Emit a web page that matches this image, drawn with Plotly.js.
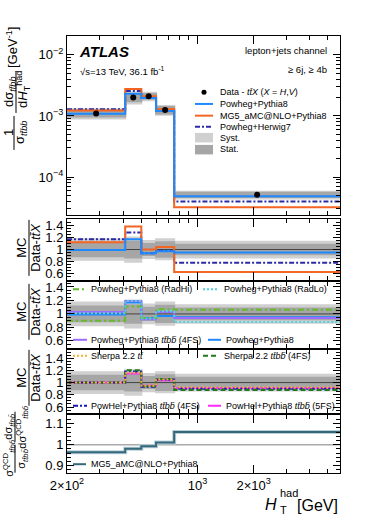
<!DOCTYPE html>
<html>
<head>
<meta charset="utf-8">
<script src="https://cdn.plot.ly/plotly-3.0.1.min.js"></script>
<style>
  html, body { margin: 0; padding: 0; background: #fff; }
  #chart { width: 374px; height: 518px; }
</style>
</head>
<body>
<div id="chart"></div>
<script>
// H_T^had bin edges [GeV]
const binEdges = [200, 410, 500, 600, 750, 5800];

// top panel: 1/sigma dsigma/dHT [GeV^-1]
const dataXsec   = [1.10e-3, 2.00e-3, 2.10e-3, 1.25e-3, 5.1e-5];
const powPy8Xsec = [1.09e-3, 2.32e-3, 1.97e-3, 1.21e-3, 4.85e-5];
const mg5Py8Xsec = [1.23e-3, 2.76e-3, 2.10e-3, 1.30e-3, 3.2e-5];
const powHw7Xsec = [1.29e-3, 2.56e-3, 1.97e-3, 1.22e-3, 3.98e-5];

// relative uncertainty bands (MC/data = 1 +- band)
const systLo = [0.83, 0.80, 0.86, 0.84, 0.87];
const systHi = [1.17, 1.20, 1.14, 1.17, 1.13];
const statLo = [0.89, 0.87, 0.91, 0.88, 0.92];
const statHi = [1.11, 1.13, 1.09, 1.12, 1.08];

// ratio panel A
const ratioPowPy8 = [0.99, 1.17, 0.94, 0.97, 0.95];
const ratioMg5Py8 = [1.12, 1.38, 1.00, 1.04, 0.63];
const ratioPowHw7 = [1.17, 1.28, 0.94, 0.98, 0.78];
// ratio panel B
const ratioRadHi   = [0.90, 1.11, 0.94, 1.07, 1.06];
const ratioRadLo   = [1.01, 1.19, 0.93, 1.04, 0.88];
const ratioPowTtbb = [1.03, 1.19, 0.92, 1.03, 0.94];
// ratio panel C
const ratioSherpaTt   = [1.00, 1.16, 0.95, 1.05, 0.92];
const ratioSherpaTtbb = [1.00, 1.20, 0.94, 1.06, 0.88];
const ratioPowHel4FS  = [1.00, 1.18, 0.93, 1.05, 0.90];
const ratioPowHel5FS  = [1.00, 1.15, 0.95, 1.04, 0.91];
// bottom panel: sigma^QCD/sigma * dsigma/dsigma^QCD
const qcdRatioMg5 = [0.964, 0.981, 0.993, 1.010, 1.061];

const C = {
  blue: '#1e88ff', orange: '#f26522', navy: '#2b2ba8',
  radHi: '#66bb2a', radLo: '#4fd3dc', purple: '#9b6bff',
  sherpaTt: '#f0b030', sherpaTtbb: '#1f7a1f', powhel4: '#1515b5', powhel5: '#ff2bff',
  teal: '#36687c', syst: '#d0d0d0', stat: '#a6a6a6'
};
const FONT = 'Liberation Sans, Arial, Helvetica, sans-serif';

const step = v => v.concat([v[v.length - 1]]);
const axId = i => (i === 1 ? '' : String(i));

function stepLine(vals, panel, color, dash, width) {
  return {
    x: binEdges, y: step(vals), xaxis: 'x' + axId(panel), yaxis: 'y' + axId(panel),
    mode: 'lines', line: { shape: 'hv', color: color, dash: dash || 'solid', width: width || 2 },
    hoverinfo: 'skip', showlegend: false
  };
}

function band(lo, hi, panel, color) {
  const lower = stepLine(lo, panel, color, 'solid', 0);
  const upper = stepLine(hi, panel, color, 'solid', 0);
  upper.fill = 'tonexty';
  upper.fillcolor = color;
  return [lower, upper];
}

const mul = (a, b) => a.map((v, i) => v * b[i]);
const ones = binEdges.slice(0, 5).map(() => 1);

const traces = [];
// panel 1
traces.push(...band(mul(dataXsec, systLo), mul(dataXsec, systHi), 1, C.syst));
traces.push(...band(mul(dataXsec, statLo), mul(dataXsec, statHi), 1, C.stat));
traces.push(stepLine(powHw7Xsec, 1, C.navy, '5px,2px,2px,2px'));
traces.push(stepLine(mg5Py8Xsec, 1, C.orange));
traces.push(stepLine(powPy8Xsec, 1, C.blue));
traces.push({
  x: binEdges.slice(0, 5).map((e, i) => Math.sqrt(e * binEdges[i + 1])), y: dataXsec,
  xaxis: 'x', yaxis: 'y', mode: 'markers', marker: { color: '#000', size: 6 },
  hoverinfo: 'skip', showlegend: false
});

// ratio panels
[2, 3, 4].forEach(p => {
  traces.push(...band(systLo, systHi, p, C.syst));
  traces.push(...band(statLo, statHi, p, C.stat));
  traces.push(stepLine(ones, p, '#444', 'solid', 1));
});
traces.push(stepLine(ratioPowHw7, 2, C.navy, '5px,2px,2px,2px'));
traces.push(stepLine(ratioMg5Py8, 2, C.orange));
traces.push(stepLine(ratioPowPy8, 2, C.blue));

traces.push(stepLine(ratioPowPy8, 3, C.blue));
traces.push(stepLine(ratioPowTtbb, 3, C.purple));
traces.push(stepLine(ratioRadHi, 3, C.radHi, '6px,3px,2px,3px'));
traces.push(stepLine(ratioRadLo, 3, C.radLo, '2px,2px'));

traces.push(stepLine(ratioPowHel5FS, 4, C.powhel5));
traces.push(stepLine(ratioPowHel4FS, 4, C.powhel4, '5px,2px,2px,2px'));
traces.push(stepLine(ratioSherpaTtbb, 4, C.sherpaTtbb, '5px,3px'));
traces.push(stepLine(ratioSherpaTt, 4, C.sherpaTt, '2px,2px'));

traces.push(stepLine(ones, 5, '#aaaaaa', 'solid', 1.5));
traces.push(stepLine(qcdRatioMg5, 5, '#b9cfd8', 'solid', 4));
traces.push(stepLine(qcdRatioMg5, 5, C.teal, 'solid', 2));

// pixel helpers (plot area: x 67..340, y 36..473.3)
const PX = x => (x - 67) / 273;
const PY = y => (473.3 - y) / 437.3;

const domains = {
  1: [0.5907, 1], 2: [0.442, 0.5808], 3: [0.287, 0.438], 4: [0.137, 0.281], 5: [0, 0.132]
};
const yRanges = {
  1: [-4.62, -1.69], 2: [0.5, 1.5], 3: [0.5, 1.48], 4: [0.5, 1.53], 5: [0.865, 1.14]
};

const xMinor = [300, 400, 500, 600, 700, 800, 900, 3000, 4000, 5000];
const yLogMinor = [];
[1e-5, 1e-4, 1e-3, 1e-2].forEach(d => { for (let k = 2; k <= 9; k++) yLogMinor.push(k * d); });

const layout = {
  width: 374, height: 518,
  margin: { l: 67, r: 34, t: 36, b: 44.7 },
  paper_bgcolor: '#fff', plot_bgcolor: '#fff',
  font: { family: FONT, size: 12, color: '#000' },
  showlegend: false,
  shapes: [], annotations: []
};

for (let p = 1; p <= 5; p++) {
  const id = axId(p);
  layout['xaxis' + id] = {
    type: 'log', range: [Math.log10(200), Math.log10(5800)],
    anchor: 'y' + id, domain: [0, 1],
    showline: true, linecolor: '#000', linewidth: 1, mirror: 'ticks',
    ticks: 'inside', ticklen: 8, tickcolor: '#000',
    tickmode: 'array', tickvals: [200, 1000, 2000],
    ticktext: ['2×10<sup>2</sup>', '10<sup>3</sup>', '2×10<sup>3</sup>'],
    showticklabels: p === 5, tickfont: { size: 13 },
    minor: { tickmode: 'array', tickvals: xMinor, ticks: 'inside', ticklen: 4, tickcolor: '#000' },
    showgrid: false, zeroline: false, fixedrange: true
  };
  if (p > 1) layout['xaxis' + id].matches = 'x';
  const y = {
    anchor: 'x' + id, domain: domains[p], range: yRanges[p],
    showline: true, linecolor: '#000', linewidth: 1, mirror: 'ticks',
    ticks: 'inside', ticklen: 7, tickcolor: '#000',
    tickfont: { size: 13 }, showgrid: false, zeroline: false, fixedrange: true
  };
  if (p === 1) {
    Object.assign(y, {
      type: 'log', tickmode: 'array', tickvals: [1e-4, 1e-3, 1e-2],
      ticktext: ['10<sup>−4</sup>', '10<sup>−3</sup>', '10<sup>−2</sup>'],
      minor: { tickmode: 'array', tickvals: yLogMinor, ticks: 'inside', ticklen: 4, tickcolor: '#000' }
    });
  } else if (p < 5) {
    Object.assign(y, {
      tickmode: 'array', tickvals: [0.6, 0.8, 1, 1.2, 1.4], ticktext: ['0.6', '0.8', '1', '1.2', '1.4'],
      minor: { tickmode: 'linear', tick0: 0.5, dtick: 0.05, ticks: 'inside', ticklen: 4, tickcolor: '#000' }
    });
  } else {
    Object.assign(y, {
      tickmode: 'array', tickvals: [0.9, 1, 1.1], ticktext: ['0.9', '1', '1.1'],
      minor: { tickmode: 'linear', tick0: 0.86, dtick: 0.02, ticks: 'inside', ticklen: 4, tickcolor: '#000' }
    });
  }
  layout['yaxis' + id] = y;
}

function text(str, x, y, opts) {
  layout.annotations.push(Object.assign({
    text: str, x: PX(x), y: PY(y), xref: 'paper', yref: 'paper',
    showarrow: false, xanchor: 'left', yanchor: 'middle',
    font: { family: FONT, size: 9, color: '#000' }
  }, opts || {}));
}
function rtext(str, x, y, size) {
  text(str, x, y, { textangle: -90, xanchor: 'center', yanchor: 'middle', font: { family: FONT, size: size || 13, color: '#000' } });
}
function seg(x0, y0, x1, y1, color, dash, width) {
  layout.shapes.push({
    type: 'line', xref: 'paper', yref: 'paper', x0: PX(x0), y0: PY(y0), x1: PX(x1), y1: PY(y1),
    line: { color: color, dash: dash || 'solid', width: width || 2 }
  });
}
function box(x0, y0, x1, y1, color) {
  layout.shapes.push({
    type: 'rect', xref: 'paper', yref: 'paper', x0: PX(x0), y0: PY(y0), x1: PX(x1), y1: PY(y1),
    fillcolor: color, line: { width: 0 }
  });
}

const TT = 'tt̄';
const BB = 'bb̄';
const LABEL = { family: FONT, size: 9.5, color: '#000' };
// labels in the top panel
text('<b><i>ATLAS</i></b>', 77, 52, { font: { family: FONT, size: 15, color: '#000' } });
text('√s=13 TeV, 36.1 fb<sup>-1</sup>', 78, 71, { font: LABEL });
text('lepton+jets channel', 329, 51, { xanchor: 'right', font: LABEL });
text('≥ 6j, ≥ 4b', 329, 70, { xanchor: 'right', font: LABEL });

// top legend
layout.shapes.push({
  type: 'circle', xref: 'paper', yref: 'paper', x0: PX(201.5), x1: PX(206.5), y0: PY(89.8), y1: PY(94.8),
  fillcolor: '#000', line: { width: 0 }
});
text('Data - <i>' + TT + 'X</i> (<i>X</i> = <i>H</i>,<i>V</i>)', 218, 92.3);
seg(195, 104, 213, 104, C.blue);
text('Powheg+Pythia8', 218, 104);
seg(195, 115.7, 213, 115.7, C.orange);
text('MG5_aMC@NLO+Pythia8', 218, 115.7);
seg(195, 126.7, 213, 126.7, C.navy, '5px,2px,2px,2px');
text('Powheg+Herwig7', 218, 126.7);
box(195, 133, 213, 142.5, C.syst);
text('Syst.', 218, 137.7);
box(195, 145, 213, 154.5, C.stat);
text('Stat.', 218, 149.3);

// panel B legend
seg(73, 289.3, 87, 289.3, C.radHi, '6px,3px,2px,3px');
text('Powheg+Pythia8 (RadHi)', 89, 289.3);
seg(203, 289.3, 218, 289.3, C.radLo, '2px,2px');
text('Powheg+Pythia8 (RadLo)', 222, 289.3);
seg(73, 340, 87, 340, C.purple);
text('Powheg+Pythia8 <i>' + TT + BB + '</i> (4FS)', 89, 340);
seg(208, 340, 221, 340, C.blue);
text('Powheg+Pythia8', 224, 340);

// panel C legend
seg(73, 356, 87, 356, C.sherpaTt, '2px,2px');
text('Sherpa 2.2 <i>' + TT + '</i>', 89, 356);
seg(203, 356, 218, 356, C.sherpaTtbb, '5px,3px');
text('Sherpa 2.2 <i>' + TT + BB + '</i> (4FS)', 222, 356);
seg(73, 406, 87, 406, C.powhel4, '5px,2px,2px,2px');
text('PowHel+Pythia8 <i>' + TT + BB + '</i> (4FS)', 89, 406);
seg(208, 406, 221, 406, C.powhel5);
text('PowHel+Pythia8 <i>' + TT + BB + '</i> (5FS)', 224, 406);

// bottom legend
seg(73, 464.5, 86, 464.5, C.teal);
text('MG5_aMC@NLO+Pythia8', 89, 464.5);

// x-axis title
text('[GeV]', 340, 506, { xanchor: 'right', font: { family: FONT, size: 16, color: '#000' } });
text('<i>H</i>', 271, 505, { xanchor: 'center', font: { family: FONT, size: 16, color: '#000' } });
text('had', 278, 493, { font: { family: FONT, size: 11, color: '#000' } });
text('T', 278, 510, { font: { family: FONT, size: 11, color: '#000' } });

// y-axis title, top panel
rtext('1', 9, 133);
seg(14, 116, 14, 150, '#000', 'solid', 1);
rtext('σ<sub><i>' + TT + 'bb</i></sub>', 21, 133);
rtext('dσ<sub><i>' + TT + 'bb</i></sub>', 10, 92);
seg(16, 72, 16, 113, '#000', 'solid', 1);
rtext('d<i>H</i><sub>T</sub><sup>had</sup>', 23, 90);
rtext('[GeV<sup>-1</sup>]', 12, 48);

// y-axis titles, ratio panels
[[2, 248], [3, 312], [4, 378]].forEach(([p, yc]) => {
  rtext('MC', 22, yc);
  seg(29, yc - 28, 29, yc + 28, '#000', 'solid', 1);
  rtext('Data-<i>' + TT + 'X</i>', 36, yc);
});

// y-axis title, bottom panel
rtext('dσ<sub><i>' + TT + BB + '</i></sub>', 9, 427, 11);
seg(15, 412, 15, 442, '#000', 'solid', 1);
rtext('dσ<sup>QCD</sup><sub><i>' + TT + BB + '</i></sub>', 22, 427, 11);
rtext('σ<sup>QCD</sup><sub><i>' + TT + BB + '</i></sub>', 9, 459, 11);
seg(15, 445, 15, 473, '#000', 'solid', 1);
rtext('σ<sub><i>' + TT + BB + '</i></sub>', 22, 459, 11);

Plotly.newPlot('chart', traces, layout, { displayModeBar: false, staticPlot: true });
</script>
</body>
</html>
